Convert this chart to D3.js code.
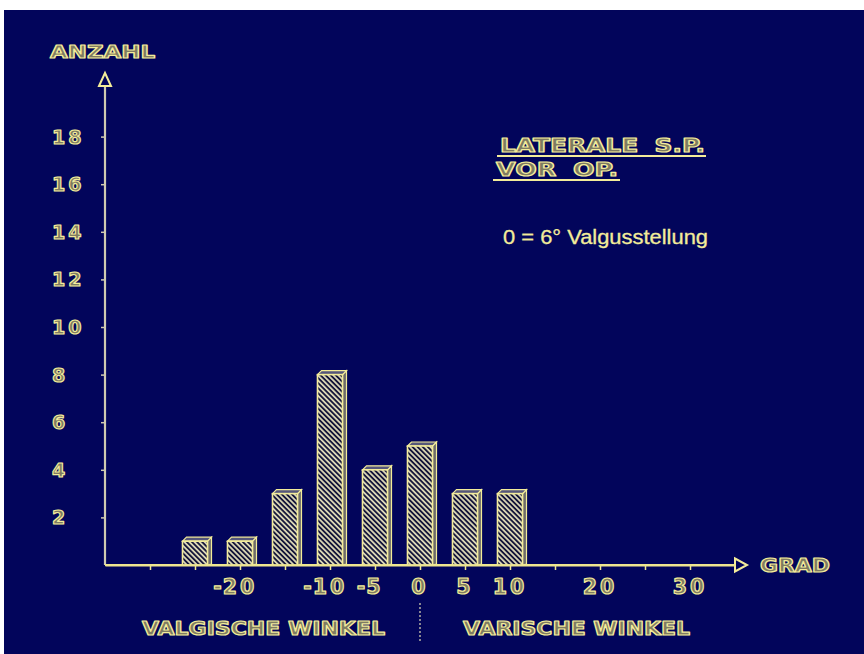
<!DOCTYPE html>
<html><head><meta charset="utf-8">
<script src="https://cdn.jsdelivr.net/npm/d3@7"></script>
<style>
html,body{margin:0;padding:0;background:#fff;}
svg{display:block;}
</style></head>
<body>
<script>
// ---- data ----
const categories = [-25, -20, -15, -10, -5, 0, 5, 10];   // Grad
const counts     = [1, 1, 3, 8, 4, 5, 3, 3];              // Anzahl
const yTicks     = [2, 4, 6, 8, 10, 12, 14, 16, 18];
const xTicks     = [-30, -25, -20, -15, -10, -5, 0, 5, 10, 15, 20, 25, 30];
const xTickLabels = [-20, -10, -5, 0, 5, 10, 20, 30];
const yTitle = "ANZAHL";
const xTitle = "GRAD";
const titleLines = ["LATERALE S.P.", "VOR OP."];
const note = "0 = 6° Valgusstellung";
const groupLabels = ["VALGISCHE WINKEL", "VARISCHE WINKEL"];

const W = 864, H = 654;
const NAVY = "#02055b", YEL = "#f3ec9a", LINE = "#efe690", YAX = "#cfcbb0";
const hollowFill = "#7f7b62";
const FONT = "'DejaVu Sans', Verdana, sans-serif";

const svg = d3.select("body").append("svg").attr("width", W).attr("height", H);
svg.append("rect").attr("x", 4).attr("y", 10).attr("width", W - 4).attr("height", H - 10).attr("fill", NAVY);

const defs = svg.append("defs");
const pat = defs.append("pattern").attr("id", "hatch").attr("patternUnits", "userSpaceOnUse")
  .attr("width", 3.6).attr("height", 3.6).attr("patternTransform", "rotate(-45)");
pat.append("rect").attr("width", 3.6).attr("height", 3.6).attr("fill", "#d9d5b4");
pat.append("rect").attr("width", 1.8).attr("height", 3.6).attr("fill", "#15163a");

const x = d3.scaleLinear().domain([-35, 35]).range([105, 735]);
const y = d3.scaleLinear().domain([0, 18]).range([565, 136.6]);

function hollow(sel, size) {
  return sel.attr("font-family", FONT).attr("font-weight", "bold").attr("font-size", size)
    .attr("fill", hollowFill).attr("stroke", YEL).attr("stroke-width", 1.2)
    .attr("stroke-linejoin", "round");
}

// ---- axes ----
const gx = svg.append("g").attr("transform", `translate(0,${y(0)})`)
  .call(d3.axisBottom(x).tickValues(xTicks).tickFormat("").tickSizeInner(5).tickSizeOuter(0));
gx.select(".domain").attr("stroke", LINE).attr("stroke-width", 2.2);
gx.selectAll(".tick line").attr("stroke", LINE).attr("stroke-width", 1.5);

const gy = svg.append("g").attr("transform", `translate(${x(-35)},0)`)
  .call(d3.axisLeft(y).tickValues(yTicks).tickFormat("").tickSizeInner(4).tickSizeOuter(0));
gy.select(".domain").remove();
gy.selectAll(".tick line").attr("stroke", YAX).attr("stroke-width", 1.5);
svg.append("line").attr("x1", x(-35)).attr("x2", x(-35)).attr("y1", y(0)).attr("y2", 86)
  .attr("stroke", YAX).attr("stroke-width", 2.2);
// arrow heads
svg.append("path").attr("d", `M${x(-35) - 6},86 L${x(-35)},73 L${x(-35) + 6},86 Z`)
  .attr("fill", "none").attr("stroke", YEL).attr("stroke-width", 2);
svg.append("line").attr("x1", x(-35)).attr("x2", x(35)).attr("y1", y(0)).attr("y2", y(0))
  .attr("stroke", LINE).attr("stroke-width", 2.2);
svg.append("path").attr("d", `M${x(35)},${y(0) - 6.5} L${x(35) + 12},${y(0)} L${x(35)},${y(0) + 6.5} Z`)
  .attr("fill", NAVY).attr("stroke", YEL).attr("stroke-width", 2);

// ---- bars ----
const bw = 25, d = 4;
const bars = svg.append("g");
categories.forEach((c, i) => {
  const cx = x(c), top = y(counts[i]), base = y(0);
  const l = cx - bw / 2, r = cx + bw / 2;
  bars.append("path").attr("d", `M${r},${top} L${r + d},${top - d} L${r + d},${base - 1} L${r},${base}Z`)
    .attr("fill", "#6e6c6a").attr("stroke", YEL).attr("stroke-width", 1.2);
  bars.append("path").attr("d", `M${l},${top} L${l + d},${top - d} L${r + d},${top - d} L${r},${top}Z`)
    .attr("fill", "#55567a").attr("stroke", YEL).attr("stroke-width", 1.2);
  bars.append("rect").attr("x", l).attr("y", top).attr("width", bw).attr("height", base - top)
    .attr("fill", "url(#hatch)").attr("stroke", YEL).attr("stroke-width", 1.6);
});
gx.raise();

// ---- y tick labels ----
svg.append("g").selectAll("text").data(yTicks).join("text")
  .attr("x", 52).attr("y", v => y(v) + 7).attr("letter-spacing", 3)
  .text(v => v).call(hollow, 19);

// ---- x tick labels ----
const xl = svg.append("g");
xTickLabels.forEach(v => {
  const t = xl.append("text").attr("x", x(v)).attr("y", 594).attr("text-anchor", "middle")
    .attr("letter-spacing", 3).text(Math.abs(v)).call(hollow, 20.5);
  if (v < 0) {
    const w = t.node().getComputedTextLength();
    xl.append("text").attr("x", x(v) - w / 2 - 1).attr("y", 594).attr("text-anchor", "end")
      .text("-").call(hollow, 20.5);
  }
});

// ---- titles ----
svg.append("text").attr("x", 50).attr("y", 58).attr("textLength", 105).attr("lengthAdjust", "spacingAndGlyphs")
  .text(yTitle).call(hollow, 18);
svg.append("text").attr("x", 760).attr("y", 572).attr("textLength", 70).attr("lengthAdjust", "spacingAndGlyphs")
  .text(xTitle).call(hollow, 19);

svg.append("text").attr("x", 500).attr("y", 152).attr("textLength", 205).attr("lengthAdjust", "spacingAndGlyphs")
  .attr("word-spacing", 6).text(titleLines[0]).call(hollow, 19);
svg.append("line").attr("x1", 497).attr("x2", 706).attr("y1", 156).attr("y2", 156).attr("stroke", YEL).attr("stroke-width", 1.8);
svg.append("text").attr("x", 496).attr("y", 176).attr("textLength", 122).attr("lengthAdjust", "spacingAndGlyphs")
  .attr("word-spacing", 6).text(titleLines[1]).call(hollow, 19);
svg.append("line").attr("x1", 493).attr("x2", 620).attr("y1", 180).attr("y2", 180).attr("stroke", YEL).attr("stroke-width", 1.8);

svg.append("text").attr("x", 503).attr("y", 244).attr("font-family", "'Liberation Sans', Arial, sans-serif")
  .attr("font-size", 20.5).attr("fill", YEL).attr("stroke", YEL).attr("stroke-width", 0.3)
  .attr("textLength", 205).attr("lengthAdjust", "spacingAndGlyphs")
  .text(note);

svg.append("text").attr("x", 142).attr("y", 635).attr("textLength", 243).attr("lengthAdjust", "spacingAndGlyphs")
  .text(groupLabels[0]).call(hollow, 19);
svg.append("text").attr("x", 463).attr("y", 635).attr("textLength", 227).attr("lengthAdjust", "spacingAndGlyphs")
  .text(groupLabels[1]).call(hollow, 19);
svg.append("line").attr("x1", x(0)).attr("x2", x(0)).attr("y1", 603).attr("y2", 641)
  .attr("stroke", YAX).attr("stroke-width", 1.3).attr("stroke-dasharray", "2,2");
</script>
</body></html>
